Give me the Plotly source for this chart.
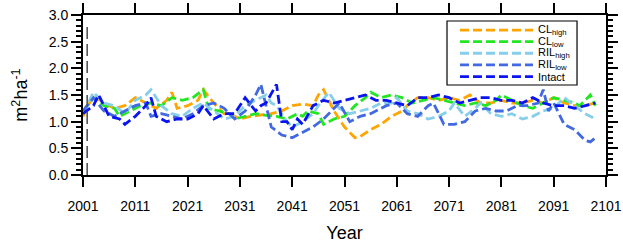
import plotly.graph_objects as go

# ---------------- data ----------------
cl_high_years = [2001, 2003, 2005, 2007, 2009, 2011, 2013, 2015, 2017, 2018, 2019, 2021, 2023, 2024, 2026, 2028, 2030, 2031, 2033, 2035, 2037, 2039, 2041, 2043, 2045, 2046, 2047, 2049, 2051, 2053, 2054, 2056, 2058, 2060, 2062, 2063, 2065, 2067, 2069, 2071, 2073, 2075, 2077, 2079, 2081, 2083, 2085, 2087, 2089, 2091, 2093, 2095, 2097, 2099]
cl_high = [1.1, 1.5, 1.35, 1.25, 1.3, 1.45, 1.35, 1.25, 1.4, 1.55, 1.25, 1.3, 1.4, 1.6, 1.35, 1.15, 1.1, 1.05, 1.1, 1.12, 1.15, 1.2, 1.3, 1.33, 1.3, 1.5, 1.6, 1.2, 0.9, 0.7, 0.72, 0.85, 0.95, 1.1, 1.2, 1.3, 1.45, 1.45, 1.4, 1.45, 1.4, 1.5, 1.35, 1.35, 1.4, 1.35, 1.35, 1.4, 1.35, 1.45, 1.35, 1.3, 1.3, 1.35]

cl_low_years = [2001, 2003, 2005, 2007, 2008, 2010, 2012, 2014, 2016, 2018, 2020, 2022, 2024, 2025, 2027, 2029, 2030, 2032, 2034, 2036, 2038, 2040, 2042, 2043, 2044, 2046, 2047, 2049, 2051, 2053, 2055, 2056, 2058, 2060, 2062, 2064, 2066, 2068, 2070, 2072, 2074, 2076, 2078, 2080, 2081, 2083, 2085, 2087, 2089, 2091, 2093, 2095, 2096, 2098, 2099]
cl_low = [1.2, 1.45, 1.3, 1.25, 1.1, 1.2, 1.3, 1.35, 1.3, 1.45, 1.4, 1.45, 1.6, 1.25, 1.2, 1.15, 1.05, 1.1, 1.15, 1.12, 1.1, 1.05, 1.15, 1.1, 1.2, 1.15, 0.95, 1.05, 1.1, 1.3, 1.45, 1.55, 1.45, 1.5, 1.45, 1.35, 1.4, 1.45, 1.4, 1.35, 1.3, 1.35, 1.3, 1.4, 1.5, 1.4, 1.3, 1.25, 1.35, 1.45, 1.4, 1.35, 1.3, 1.5, 1.3]

ril_high_years = [2001, 2003, 2005, 2007, 2009, 2011, 2013, 2014, 2016, 2018, 2020, 2022, 2024, 2026, 2028, 2030, 2032, 2034, 2036, 2037, 2038, 2040, 2041, 2043, 2045, 2046, 2048, 2050, 2052, 2054, 2056, 2058, 2060, 2061, 2063, 2065, 2067, 2069, 2071, 2072, 2074, 2076, 2077, 2079, 2081, 2083, 2085, 2087, 2089, 2091, 2093, 2095, 2097, 2099]
ril_high = [1.15, 1.55, 1.35, 1.3, 1.15, 1.4, 1.5, 1.6, 1.3, 1.15, 1.1, 1.25, 1.35, 1.2, 1.05, 1.1, 1.3, 1.4, 1.5, 1.35, 1.3, 1.0, 0.9, 1.0, 1.15, 1.3, 1.55, 1.25, 1.15, 1.2, 1.25, 1.35, 1.35, 1.45, 1.2, 1.15, 1.05, 1.1, 1.2, 1.35, 1.1, 1.25, 1.35, 1.15, 1.1, 1.15, 1.05, 1.1, 1.2, 1.25, 1.45, 1.3, 1.15, 1.05]

ril_low_years = [2001, 2003, 2005, 2007, 2009, 2011, 2013, 2014, 2016, 2018, 2020, 2022, 2024, 2026, 2028, 2030, 2032, 2034, 2035, 2037, 2039, 2041, 2043, 2045, 2047, 2049, 2050, 2052, 2054, 2056, 2059, 2061, 2063, 2065, 2067, 2068, 2070, 2072, 2074, 2076, 2078, 2080, 2082, 2084, 2086, 2088, 2089, 2090, 2091, 2093, 2095, 2097, 2098, 2099]
ril_low = [1.2, 1.45, 1.2, 1.1, 1.2, 1.3, 1.35, 1.1, 1.15, 1.1, 1.05, 1.15, 1.3, 1.35, 1.25, 1.05, 1.2, 1.5, 1.7, 0.9, 0.75, 0.7, 0.8, 0.9, 1.05, 1.25, 1.35, 1.0, 1.1, 1.15, 1.3, 1.35, 1.15, 1.1, 1.3, 1.35, 0.95, 0.95, 1.0, 1.2, 1.25, 1.2, 1.2, 1.3, 1.3, 1.35, 1.6, 1.2, 1.35, 0.95, 0.85, 0.65, 0.62, 0.7]

intact_years = [2001, 2003, 2004, 2006, 2008, 2009, 2011, 2013, 2014, 2015, 2017, 2019, 2021, 2023, 2024, 2026, 2028, 2030, 2032, 2034, 2035, 2036, 2038, 2039, 2040, 2041, 2042, 2043, 2045, 2047, 2049, 2051, 2053, 2055, 2057, 2059, 2061, 2063, 2065, 2067, 2069, 2071, 2073, 2075, 2077, 2079, 2081, 2083, 2085, 2087, 2089, 2091, 2093, 2095, 2097, 2099]
intact = [1.15, 1.3, 1.5, 1.1, 1.05, 0.95, 1.1, 1.3, 1.45, 1.1, 1.0, 1.05, 1.05, 1.15, 1.3, 1.05, 1.15, 1.15, 1.45, 1.2, 1.3, 1.35, 1.7, 1.0, 1.0, 0.85, 1.05, 0.95, 1.3, 1.4, 1.35, 1.4, 1.45, 1.5, 1.4, 1.4, 1.35, 1.3, 1.45, 1.45, 1.5, 1.45, 1.35, 1.4, 1.45, 1.45, 1.4, 1.4, 1.35, 1.45, 1.35, 1.3, 1.3, 1.25, 1.3, 1.35]

series_names = ["CL<sub>high</sub>", "CL<sub>low</sub>", "RIL<sub>high</sub>", "RIL<sub>low</sub>", "Intact"]
series_years = [cl_high_years, cl_low_years, ril_high_years, ril_low_years, intact_years]
series_values = [cl_high, cl_low, ril_high, ril_low, intact]
series_colors = ["#FFA500", "#22E622", "#87CEEB", "#4169E1", "#0A14F0"]

x_tick_vals = [2001, 2011, 2021, 2031, 2041, 2051, 2061, 2071, 2081, 2091, 2101]
y_tick_vals = [0.0, 0.5, 1.0, 1.5, 2.0, 2.5, 3.0]

ref_line_year = 2001.8
ref_line_range = [0.0, 2.85]

# ---------------- figure ----------------
DASH = "9px,4px"
FONT = "Liberation Sans, Arial"
LW = 2.8
fig = go.Figure()

for name, xs, ys, col in zip(series_names, series_years, series_values, series_colors):
    fig.add_trace(go.Scatter(x=xs, y=ys, mode="lines", name=name,
                             line=dict(color=col, width=LW, dash=DASH),
                             showlegend=False))

fig.add_trace(go.Scatter(x=[ref_line_year, ref_line_year], y=ref_line_range, mode="lines",
                         line=dict(color="#555555", width=1.6, dash="12px,5px"),
                         showlegend=False, hoverinfo="skip"))

# manual compact legend (paper coordinates)
lx0, lx1, ly1, ly0 = 0.696, 0.9446, 0.9625, 0.5625
fig.add_shape(type="rect", xref="paper", yref="paper", x0=lx0, x1=lx1, y0=ly0, y1=ly1,
              line=dict(color="black", width=1.2), fillcolor="white", layer="above")
row_y = [0.906, 0.834, 0.761, 0.688, 0.615]
for name, col, ry in zip(series_names, series_colors, row_y):
    fig.add_shape(type="line", xref="paper", yref="paper", x0=0.7208, x1=0.8604, y0=ry, y1=ry,
                  line=dict(color=col, width=LW, dash=DASH), layer="above")
    fig.add_annotation(xref="paper", yref="paper", x=0.866, y=ry, text=name, showarrow=False,
                       xanchor="left", yanchor="middle",
                       font=dict(family=FONT, size=11, color="black"))

axis_common = dict(showline=True, linecolor="black", linewidth=2, mirror="allticks",
                   ticks="outside", ticklen=10, tickwidth=2, tickcolor="black",
                   showgrid=False, zeroline=False, automargin=False,
                   tickfont=dict(family=FONT, size=14, color="black"))

fig.update_xaxes(range=[2001, 2101], tickvals=x_tick_vals, ticklabelstandoff=7, **axis_common,
                 title=dict(text="Year", font=dict(family=FONT, size=18, color="black"),
                            standoff=14))
fig.update_yaxes(range=[0, 3.0], tickvals=y_tick_vals, tickformat=".1f", **axis_common,
                 minor=dict(dtick=0.1, ticks="outside", ticklen=5, tickwidth=1.5, tickcolor="black"),
                 title=dict(text="m<sup>2</sup>ha<sup>-1</sup>",
                            font=dict(family=FONT, size=18, color="black"),
                            standoff=16))

fig.update_layout(width=623, height=245, plot_bgcolor="white", paper_bgcolor="white",
                  margin=dict(l=83, r=17, t=15, b=70), showlegend=False)

# remove the browser's default 8px body margin so the figure fills the window exactly
fig.write_html("out.html", config={"displayModeBar": False},
               post_script="document.body.style.margin='0';document.body.style.overflow='hidden';")
